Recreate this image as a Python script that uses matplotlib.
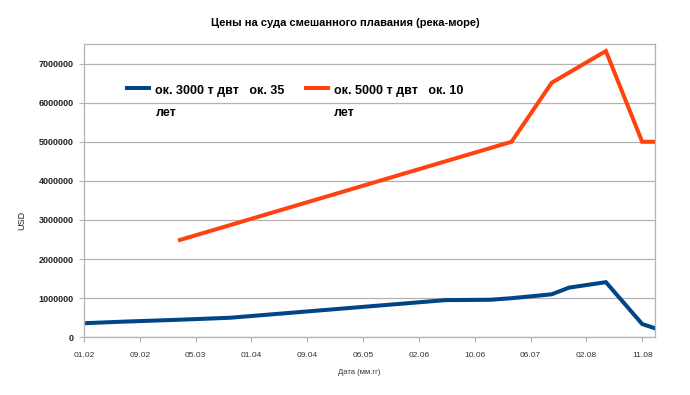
import matplotlib.pyplot as plt

# x positions are measured in label steps along the category axis (01.02 = 0, 11.08 = 10)
date_labels = ["01.02", "09.02", "05.03", "01.04", "09.04", "06.05",
               "02.06", "10.06", "06.07", "02.08", "11.08"]

small_x = [0, 0.7, 1.72, 2.62, 6.47, 7.28, 7.66, 8.38, 8.69, 9.35, 10.0, 10.23]
small_usd = [360000, 400000, 450000, 500000, 950000, 960000, 1000000,
             1100000, 1270000, 1410000, 340000, 230000]

big_x = [1.72, 7.66, 8.38, 9.35, 10.0, 10.23]
big_usd = [2490000, 5000000, 6510000, 7320000, 5000000, 5000000]

small_label = "ок. 3000 т двт   ок. 35\nлет"
big_label = "ок. 5000 т двт   ок. 10\nлет"

blue = "#004586"
orange = "#ff420e"
grey = "#b3b3b3"

plt.rcParams['font.family'] = ['Liberation Sans', 'DejaVu Sans']

fig = plt.figure(figsize=(6.9, 3.95), dpi=100)
ax = fig.add_axes([84 / 690, 1 - 337.3 / 395, 571 / 690, 293.3 / 395])

ax.plot(small_x, small_usd, color=blue, lw=2.9, solid_joinstyle='miter')
ax.plot(big_x, big_usd, color=orange, lw=2.9, solid_joinstyle='miter')

ax.set_xlim(0, 10.23)
ax.set_ylim(0, 7500000)
ax.set_xticks(range(len(date_labels)))
ax.set_xticklabels(date_labels, fontsize=6, color="#333333")
ax.set_yticks(range(0, 7000001, 1000000))
ax.set_yticklabels([str(v) for v in range(0, 7000001, 1000000)],
                   fontsize=6.5, fontweight='bold', color="#222222")
ax.tick_params(axis='both', length=3.5, width=0.8, color=grey)
ax.tick_params(axis='x', pad=7)
ax.tick_params(axis='y', pad=4)

ax.grid(axis='y', color=grey, lw=0.9)
ax.set_axisbelow(True)
for s in ax.spines.values():
    s.set_color(grey)
    s.set_linewidth(0.9)

# legend drawn by hand: LibreOffice puts the handle on the first text line
# (va='baseline' on multi-line text sits on the last line, hence the lower y)
for (x0, col, lab) in [(0.072, blue, small_label), (0.385, orange, big_label)]:
    ax.plot([x0, x0 + 0.045], [0.849, 0.849], color=col, lw=2.9,
            transform=ax.transAxes, solid_capstyle='butt')
    ax.text(x0 + 0.053, 0.754, lab, transform=ax.transAxes, fontsize=9,
            fontweight='bold', va='baseline', ha='left', linespacing=2.1)

fig.text(0.5, 1 - 23 / 395, "Цены на суда смешанного плавания (река-море)",
         ha='center', va='center', fontsize=8, fontweight='bold')
fig.text(359 / 690, 1 - 373 / 395, "Дата (мм.гг)", ha='center', va='center',
         fontsize=5.5, color="#333333")
fig.text(22 / 690, 1 - 220 / 395, "USD", ha='center', va='center',
         rotation=90, fontsize=6.5, color="#222222")

fig.savefig("out.png", dpi=100)
